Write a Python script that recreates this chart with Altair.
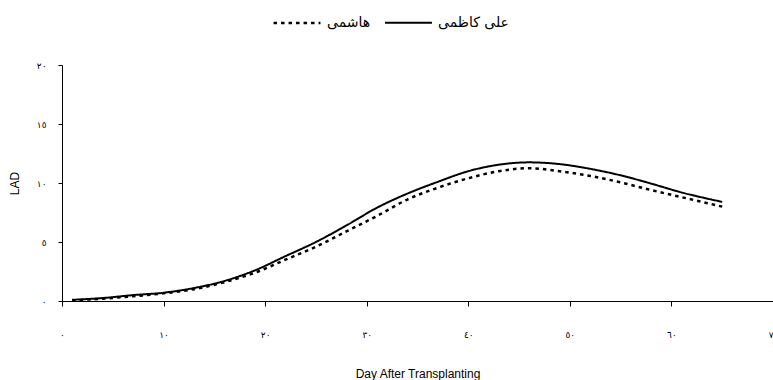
import altair as alt
import pandas as pd

days = [1, 4, 7, 10, 13, 16, 19, 22, 25, 28, 31, 34, 37, 40, 43, 46, 49, 52, 55, 58, 61, 65]
ali_kazemi = [0.1, 0.25, 0.5, 0.7, 1.1, 1.7, 2.6, 3.8, 5.0, 6.4, 7.9, 9.1, 10.1, 11.0, 11.55, 11.75, 11.6, 11.2, 10.65, 9.95, 9.2, 8.4]
hashemi = [0.05, 0.2, 0.4, 0.65, 1.0, 1.6, 2.4, 3.5, 4.6, 5.9, 7.2, 8.6, 9.6, 10.4, 11.0, 11.25, 11.0, 10.6, 10.05, 9.4, 8.8, 8.0]

series_names = ["هاشمی", "علی کاظمی"]
x_ticks = [0, 10, 20, 30, 40, 50, 60, 70]
y_ticks = [0, 5, 10, 15, 20]

rows = []
for d, v in zip(days, hashemi):
    rows.append({"day": d, "lad": v, "series": series_names[0]})
for d, v in zip(days, ali_kazemi):
    rows.append({"day": d, "lad": v, "series": series_names[1]})
df = pd.DataFrame(rows)

expr = "datum.label"
for d, a in zip("0123456789", "٠١٢٣٤٥٦٧٨٩"):
    expr = f"replace({expr}, regexp('{d}', 'g'), '{a}')"

chart = alt.Chart(df).mark_line(color="black", interpolate="monotone").encode(
    x=alt.X("day:Q", scale=alt.Scale(domain=[0, 70], nice=False),
            axis=alt.Axis(values=x_ticks, title="Day After Transplanting", grid=False,
                          labelExpr=expr, labelFontSize=9, labelFont="DejaVu Sans",
                          labelFlush=False, labelOverlap=False,
                          labelPadding=24, tickSize=5, titlePadding=29,
                          titleFont="Liberation Sans", titleFontSize=12, titleFontWeight="normal",
                          domainColor="black", tickColor="black", labelColor="black", titleColor="black")),
    y=alt.Y("lad:Q", scale=alt.Scale(domain=[0, 20], nice=False),
            axis=alt.Axis(values=y_ticks, title="LAD", grid=False,
                          labelExpr=expr, labelFontSize=9, labelFont="DejaVu Sans",
                          labelPadding=12, tickSize=4, titlePadding=15,
                          titleFont="Liberation Sans", titleFontSize=12, titleFontWeight="normal",
                          domainColor="black", tickColor="black", labelColor="black", titleColor="black")),
    strokeDash=alt.StrokeDash("series:N",
                              scale=alt.Scale(domain=series_names, range=[[3.5, 4], [1, 0]]),
                              sort=series_names,
                              legend=alt.Legend(title=None, orient="none", legendX=210, legendY=-67,
                                                direction="horizontal", symbolType="stroke",
                                                symbolSize=2200, symbolStrokeWidth=2.5,
                                                symbolStrokeColor="black",
                                                labelFont="DejaVu Sans", labelFontSize=14,
                                                labelColor="black", labelOffset=5,
                                                columnPadding=10, padding=0)),
    strokeWidth=alt.StrokeWidth("series:N",
                                scale=alt.Scale(domain=series_names, range=[2.5, 2]),
                                legend=None),
    detail="series:N",
).properties(
    width=711, height=236,
    autosize=alt.AutoSizeParams(type="none"),
    padding={"left": 62, "top": 65, "right": 0, "bottom": 79},
).configure_view(strokeWidth=0)

chart.save("out.html", embed_options={"renderer": "svg", "actions": False})
